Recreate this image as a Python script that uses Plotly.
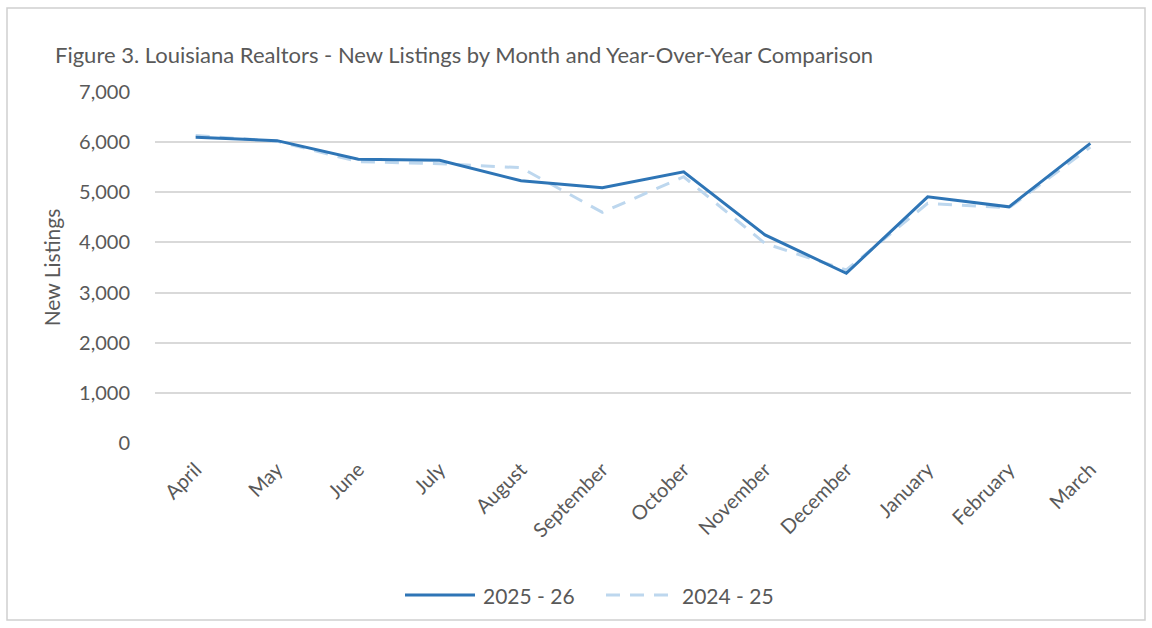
import plotly.graph_objects as go

months = ["April", "May", "June", "July", "August", "September", "October",
          "November", "December", "January", "February", "March"]
listings_2025_26 = [6100, 6030, 5660, 5640, 5230, 5090, 5410, 4150, 3385, 4910, 4710, 5975]
listings_2024_25 = [6130, 6020, 5610, 5570, 5490, 4600, 5310, 3980, 3450, 4780, 4690, 5900]
y_ticks = [0, 1000, 2000, 3000, 4000, 5000, 6000, 7000]
series_names = ["2025 - 26", "2024 - 25"]

FONT = "Lato, 'Open Sans', sans-serif"
GREY = "#595959"
SOLID = "#2E75B6"
LIGHT = "#BDD7EE"
DASH = "14px,10px"

L, R, T, B = 155, 21, 92, 185
PW, PH = 1152 - L - R, 628 - T - B


def px(x):
    return (x - L) / PW


def py(y):
    return (628 - B - y) / PH


fig = go.Figure()
fig.add_trace(go.Scatter(x=months, y=listings_2024_25, name=series_names[1], mode="lines",
                         line=dict(color=LIGHT, width=3, dash=DASH), showlegend=False))
fig.add_trace(go.Scatter(x=months, y=listings_2025_26, name=series_names[0], mode="lines",
                         line=dict(color=SOLID, width=3), showlegend=False))

fig.update_layout(
    width=1152, height=628,
    paper_bgcolor="white", plot_bgcolor="white",
    margin=dict(l=L, r=R, t=T, b=B),
    font=dict(family=FONT, color=GREY, size=20),
    title=dict(text="Figure 3. Louisiana Realtors - New Listings by Month and Year-Over-Year Comparison",
               x=55/1152, xanchor="left", y=1-55/628, yanchor="middle",
               font=dict(size=22, color=GREY, family=FONT)),
    showlegend=False,
)
fig.update_xaxes(tickangle=-45, showgrid=False, showline=False, zeroline=False,
                 tickfont=dict(size=20, color=GREY), ticks="", range=[-0.5, 11.5],
                 ticklabelstandoff=10)
fig.update_yaxes(range=[0, 7000], tickvals=y_ticks, tickformat=",d",
                 showgrid=True, gridcolor="#D9D9D9", gridwidth=1.5, zeroline=False,
                 showline=False, ticklabelstandoff=24,
                 tickfont=dict(size=20, color=GREY),
                 title=dict(text="New Listings", font=dict(size=21, color=GREY), standoff=12))

# outer border
fig.add_shape(type="rect", xref="paper", yref="paper",
              x0=px(7), x1=px(1145), y0=py(620), y1=py(8),
              line=dict(color="#D0D0D0", width=1.5), fillcolor="rgba(0,0,0,0)", layer="below")

# legend (manual, to match long line samples)
leg_y = py(595)
fig.add_shape(type="line", xref="paper", yref="paper", x0=px(405), x1=px(475), y0=leg_y, y1=leg_y,
              line=dict(color=SOLID, width=3))
fig.add_annotation(xref="paper", yref="paper", x=px(481), y=leg_y, text=series_names[0],
                   showarrow=False, xanchor="left", yanchor="middle",
                   font=dict(size=21, color=GREY, family=FONT))
fig.add_shape(type="line", xref="paper", yref="paper", x0=px(606), x1=px(675), y0=leg_y, y1=leg_y,
              line=dict(color=LIGHT, width=3, dash=DASH))
fig.add_annotation(xref="paper", yref="paper", x=px(680), y=leg_y, text=series_names[1],
                   showarrow=False, xanchor="left", yanchor="middle",
                   font=dict(size=21, color=GREY, family=FONT))

fig.write_html("out.html", config={"displayModeBar": False},
               post_script="document.body.style.margin='0px';")
